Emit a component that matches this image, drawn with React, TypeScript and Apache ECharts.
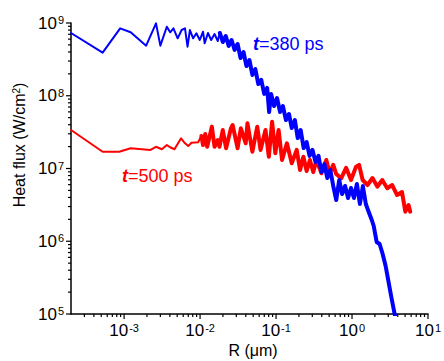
import React, { useEffect, useRef } from 'react';
import * as echarts from 'echarts';

// t = 380 ps (blue): R in µm, heat flux in W/cm²
const blueR = [
  2.0e-4, 5.22e-4, 8.87e-4, 1.22e-3, 1.95e-3, 2.63e-3, 3.0e-3, 3.65e-3, 4.04e-3, 4.46e-3,
  5.07e-3, 5.72e-3, 6.33e-3, 6.84e-3, 7.35e-3, 8.11e-3, 8.95e-3, 9.91e-3, 1.094e-2, 1.15e-2,
  1.27e-2, 1.40e-2, 1.55e-2, 1.71e-2, 1.82e-2, 1.99e-2, 2.18e-2, 2.38e-2, 2.60e-2, 2.85e-2,
  3.12e-2, 3.41e-2, 3.73e-2, 4.08e-2, 4.46e-2, 4.88e-2, 5.34e-2, 5.84e-2, 6.39e-2, 6.99e-2,
  7.64e-2, 8.11e-2, 8.61e-2, 9.42e-2, 0.103, 0.113, 0.123, 0.135, 0.148, 0.161,
  0.177, 0.193, 0.211, 0.231, 0.253, 0.276, 0.302, 0.331, 0.362, 0.396,
  0.433, 0.473, 0.518, 0.566, 0.620, 0.678, 0.741, 0.811, 0.887, 0.970,
  1.06, 1.16, 1.27, 1.39, 1.52, 1.66, 1.82, 1.93, 2.11, 2.31,
  2.53, 2.77, 3.03, 3.31, 3.62, 3.84,
];
const blueF = [
  7.29e8, 3.91e8, 8.45e8, 7.45e8, 4.88e8, 9.9e8, 4.88e8, 8.89e8, 7.45e8, 8.45e8,
  6.16e8, 8.01e8, 8.45e8, 4.72e8, 8.01e8, 6.16e8, 7.22e8, 5.84e8, 7.59e8, 5.26e8,
  7.29e8, 5.84e8, 7.06e8, 5.66e8, 7.29e8, 5.48e8, 6.63e8, 4.83e8, 5.84e8, 4.26e8,
  5.15e8, 3.30e8, 3.99e8, 2.56e8, 3.10e8, 1.93e8, 2.33e8, 1.45e8, 1.65e8, 1.06e8,
  1.28e8, 5.98e7, 1.06e8, 7.23e7, 9.31e7, 5.98e7, 7.23e7, 4.64e7, 5.61e7, 3.60e7,
  4.64e7, 2.62e7, 3.38e7, 1.91e7, 2.31e7, 1.49e7, 1.80e7, 1.23e7, 1.49e7, 8.95e6,
  1.15e7, 7.40e6, 9.54e6, 5.75e6, 3.69e6, 6.95e6, 4.46e6, 5.75e6, 3.93e6, 5.40e6,
  3.93e6, 6.12e6, 3.25e6, 5.75e6, 3.25e6, 2.52e6, 1.96e6, 1.62e6, 9.77e5, 9.17e5,
  6.68e5, 4.57e5, 2.75e5, 1.66e5, 1.03e5, 7.76e4,
];

// t = 500 ps (red)
const redR = [
  2.0e-4, 5.22e-4, 8.61e-4, 1.22e-3, 2.22e-3, 2.63e-3, 3.14e-3, 3.65e-3, 4.04e-3, 4.60e-3,
  5.62e-3, 6.33e-3, 6.99e-3, 7.71e-3, 9.42e-3, 1.04e-2, 1.094e-2, 1.17e-2, 1.24e-2, 1.43e-2,
  1.55e-2, 1.71e-2, 1.80e-2, 1.99e-2, 2.20e-2, 2.55e-2, 2.68e-2, 3.12e-2, 3.44e-2, 3.99e-2,
  4.20e-2, 4.88e-2, 5.66e-2, 6.25e-2, 7.26e-2, 8.04e-2, 8.87e-2, 9.79e-2, 0.108, 0.120,
  0.139, 0.161, 0.187, 0.207, 0.229, 0.253, 0.279, 0.309, 0.341, 0.396,
  0.459, 0.507, 0.566, 0.620, 0.720, 0.836, 0.970, 1.13, 1.24, 1.38,
  1.60, 1.86, 2.16, 2.50, 2.91, 3.38, 3.92, 4.55, 5.03, 5.55, 5.84,
];
const redF = [
  3.38e7, 1.70e7, 1.70e7, 1.90e7, 1.80e7, 1.99e7, 1.84e7, 2.10e7, 1.96e7, 1.84e7,
  2.60e7, 2.22e7, 2.04e7, 2.26e7, 2.29e7, 2.80e7, 2.10e7, 2.98e7, 1.99e7, 3.76e7,
  1.99e7, 2.46e7, 1.99e7, 3.38e7, 1.90e7, 3.57e7, 3.96e7, 1.90e7, 3.57e7, 2.22e7,
  4.18e7, 1.70e7, 3.76e7, 1.80e7, 3.38e7, 1.45e7, 4.40e7, 1.62e7, 3.38e7, 1.31e7,
  2.22e7, 1.18e7, 1.80e7, 9.54e6, 1.45e7, 9.24e6, 1.31e7, 8.95e6, 1.31e7, 8.59e6,
  1.31e7, 8.59e6, 1.12e7, 8.40e6, 7.33e6, 1.02e7, 6.95e6, 1.06e7, 1.12e7, 6.95e6,
  5.93e6, 7.40e6, 5.62e6, 6.95e6, 5.35e6, 5.93e6, 4.32e6, 4.75e6, 2.55e6, 3.15e6, 2.55e6,
];

const X_MIN = 2e-4;
const X_MAX = 10;
const Y_MIN = 1e5;
const Y_MAX = 1e9;
const xDecades = [-4, -3, -2, -1, 0];
const yDecades = [5, 6, 7, 8];

// where the sampled curves become dense (drawn as a thicker band)
const BLUE_DENSE_FROM = 1.8e-2;
const RED_DENSE_FROM = 1.0e-2;

const FONT = 'Liberation Sans, Arial, sans-serif';

function tickList(decades: number[], lo: number, hi: number) {
  const out: number[][] = [];
  for (const d of decades) {
    for (let m = 1; m <= 9; m++) {
      const v = m * Math.pow(10, d);
      if (v > lo * 1.0001 && v < hi * 0.9999) out.push([v, m === 1 ? 1 : 0]);
    }
  }
  return out;
}

function powLabel(v: number) {
  const l = Math.log10(v);
  const e = Math.round(l);
  if (Math.abs(l - e) > 1e-6) return '';
  return `{b|10}{s|${e}}`;
}

const labelRich = {
  b: { fontSize: 17, fontFamily: FONT, color: '#000' },
  s: { fontSize: 11, fontFamily: FONT, color: '#000', verticalAlign: 'top', padding: [0, 0, 0, 1] },
};

export default function App() {
  const ref = useRef<HTMLDivElement>(null);
  useEffect(() => {
    if (!ref.current) return;
    const chart = echarts.init(ref.current, undefined, { renderer: 'svg' });
    const xTicks = tickList(xDecades, X_MIN, X_MAX);
    xTicks.push([X_MAX, 1]);
    const yTicks = tickList(yDecades, Y_MIN * 0.5, Y_MAX);
    yTicks.push([Y_MAX, 1]);

    const blueData = blueR.map((r, i) => [r, blueF[i]]);
    const redData = redR.map((r, i) => [r, redF[i]]);

    const lineSeries = (data: number[][], color: string, width: number, z: number) => ({
      type: 'line',
      data,
      showSymbol: false,
      clip: true,
      lineStyle: { color, width, join: 'round', cap: 'round' },
      z,
    });

    chart.setOption({
      animation: false,
      backgroundColor: '#fff',
      grid: { left: 71, right: 11, top: 23, bottom: 47, containLabel: false },
      xAxis: {
        type: 'log',
        min: X_MIN,
        max: X_MAX,
        axisLine: { show: true, lineStyle: { color: '#000', width: 1.5 } },
        axisTick: { show: false },
        splitLine: { show: false },
        minorTick: { show: false },
        axisLabel: { formatter: powLabel, rich: labelRich, margin: 8, hideOverlap: false },
      },
      yAxis: {
        type: 'log',
        min: Y_MIN,
        max: Y_MAX,
        axisLine: { show: true, lineStyle: { color: '#000', width: 1.5 } },
        axisTick: { show: false },
        splitLine: { show: false },
        minorTick: { show: false },
        axisLabel: { formatter: powLabel, rich: labelRich, margin: 7, hideOverlap: false },
      },
      series: [
        lineSeries(redData, '#ff0000', 2, 2),
        lineSeries(redData.filter((d) => d[0] >= RED_DENSE_FROM), '#ff0000', 4, 2),
        lineSeries(blueData, '#0000ff', 2, 3),
        lineSeries(blueData.filter((d) => d[0] >= BLUE_DENSE_FROM), '#0000ff', 4, 3),
        {
          type: 'custom',
          clip: false,
          data: xTicks.map((t) => [t[0], Y_MIN, t[1]]),
          renderItem: (_p: any, api: any) => {
            const p = api.coord([api.value(0), Y_MIN]);
            const len = api.value(2) ? 5 : 3;
            return {
              type: 'line',
              shape: { x1: p[0], y1: p[1], x2: p[0], y2: p[1] + len },
              style: { stroke: '#000', lineWidth: 1.2 },
            };
          },
          z: 5,
        },
        {
          type: 'custom',
          clip: false,
          data: yTicks.map((t) => [X_MIN, t[0], t[1]]),
          renderItem: (_p: any, api: any) => {
            const p = api.coord([X_MIN, api.value(1)]);
            const len = api.value(2) ? 5 : 3;
            return {
              type: 'line',
              shape: { x1: p[0] - len, y1: p[1], x2: p[0], y2: p[1] },
              style: { stroke: '#000', lineWidth: 1.2 },
            };
          },
          z: 5,
        },
      ],
      graphic: [
        {
          type: 'text',
          x: 19,
          y: 145,
          rotation: Math.PI / 2,
          style: {
            text: '{a|Heat flux (W/cm}{s|2}{a|)}',
            align: 'center',
            verticalAlign: 'middle',
            fill: '#000',
            rich: {
              a: { fontSize: 16, fontFamily: FONT, fill: '#000' },
              s: { fontSize: 10, fontFamily: FONT, fill: '#000', verticalAlign: 'top' },
            },
          },
        },
        {
          type: 'text',
          x: 253,
          y: 350,
          style: {
            text: 'R (\u03bcm)',
            align: 'center',
            verticalAlign: 'middle',
            fontSize: 16,
            fontFamily: FONT,
            fill: '#000',
          },
        },
        {
          type: 'text',
          x: 253,
          y: 44,
          style: {
            text: '{t|t}{n|=380 ps}',
            align: 'left',
            verticalAlign: 'middle',
            fill: '#0000ff',
            rich: {
              t: { fontSize: 18, fontFamily: FONT, fontStyle: 'italic', fontWeight: 'bold', fill: '#0000ff' },
              n: { fontSize: 18, fontFamily: FONT, fill: '#0000ff' },
            },
          },
        },
        {
          type: 'text',
          x: 122,
          y: 176,
          style: {
            text: '{t|t}{n|=500 ps}',
            align: 'left',
            verticalAlign: 'middle',
            fill: '#ff0000',
            rich: {
              t: { fontSize: 18, fontFamily: FONT, fontStyle: 'italic', fontWeight: 'bold', fill: '#ff0000' },
              n: { fontSize: 18, fontFamily: FONT, fill: '#ff0000' },
            },
          },
        },
      ],
    });
    return () => chart.dispose();
  }, []);
  return (
    <div
      ref={ref}
      style={{ position: 'absolute', left: 0, top: 0, width: 444, height: 361 }}
    />
  );
}
